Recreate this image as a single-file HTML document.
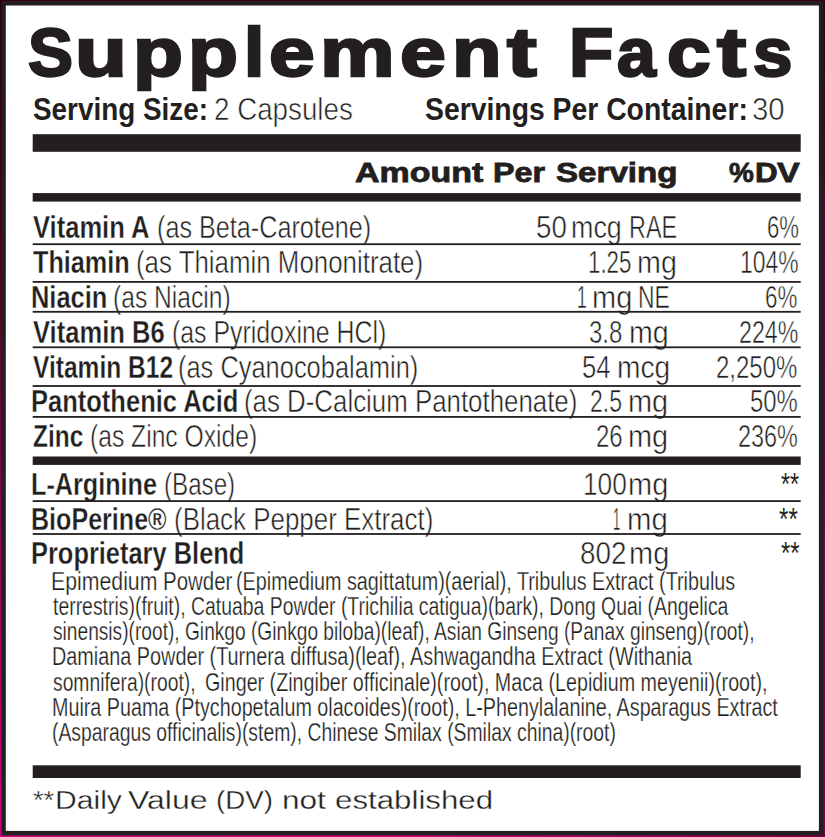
<!DOCTYPE html>
<html lang="en"><head><meta charset="utf-8"><title>Supplement Facts</title>
<style>
html,body{margin:0;padding:0}
body{width:825px;height:837px;position:relative;overflow:hidden;
 background:#3a0016;
 font-family:"Liberation Sans",sans-serif;color:#231f20}
.eg{position:absolute}
#eL{left:0;top:0;width:6px;height:837px;background:linear-gradient(to bottom,#2c000e 0%,#44001c 24%,#70003a 48%,#a0005a 72%,#c8007a 100%)}
#eR{right:0;top:0;width:6px;height:837px;background:linear-gradient(to bottom,#3a0016 0%,#70003a 48%,#7a0040 72%,#7a0040 100%)}
#eB{left:0;bottom:0;width:825px;height:3px;background:linear-gradient(to right,#c8007a 0%,#d6007e 48%,#9a0055 85%,#7a0040 100%)}
.t{position:absolute;white-space:pre;line-height:1;transform-origin:0 0;font-weight:400}
.b{font-weight:700}
.ov{position:absolute;left:0;top:0;display:block}
</style></head><body>
<div class="eg" id="eL"></div><div class="eg" id="eR"></div><div class="eg" id="eB"></div>
<svg class="ov" width="825" height="837" viewBox="0 0 825 837">
<rect x="1.6" y="1" width="821.8" height="834.4" fill="#231f20"/>
<rect x="5.8" y="5.5" width="813.1" height="825.4" fill="#fff"/>
</svg>
<span class="t b" style="left:27.60px;top:18px;font-size:68.0px;transform:scale(0.9910,1.0000);-webkit-text-stroke:2.4px #231f20">S</span>
<span class="t b" style="left:74.51px;top:18px;font-size:68.0px;transform:scale(1.2473,1.0000);-webkit-text-stroke:2.4px #231f20">u</span>
<span class="t b" style="left:132.63px;top:18px;font-size:68.0px;transform:scale(1.2032,1.0000);-webkit-text-stroke:2.4px #231f20">p</span>
<span class="t b" style="left:187.63px;top:18px;font-size:68.0px;transform:scale(1.2032,1.0000);-webkit-text-stroke:2.4px #231f20">p</span>
<span class="t b" style="left:243.59px;top:18px;font-size:68.0px;transform:scale(1.0746,1.0000);-webkit-text-stroke:2.4px #231f20">l</span>
<span class="t b" style="left:269.43px;top:18px;font-size:68.0px;transform:scale(1.2088,1.0000);-webkit-text-stroke:2.4px #231f20">e</span>
<span class="t b" style="left:320.14px;top:18px;font-size:68.0px;transform:scale(1.2347,1.0000);-webkit-text-stroke:2.4px #231f20">m</span>
<span class="t b" style="left:400.43px;top:18px;font-size:68.0px;transform:scale(1.2143,1.0000);-webkit-text-stroke:2.4px #231f20">e</span>
<span class="t b" style="left:451.66px;top:18px;font-size:68.0px;transform:scale(1.1923,1.0000);-webkit-text-stroke:2.4px #231f20">n</span>
<span class="t b" style="left:507.17px;top:18px;font-size:68.0px;transform:scale(1.3115,1.0000);-webkit-text-stroke:2.4px #231f20">t</span>
<span class="t b" style="left:569.01px;top:18px;font-size:68.0px;transform:scale(1.0677,1.0000);-webkit-text-stroke:2.4px #231f20">F</span>
<span class="t b" style="left:617.18px;top:18px;font-size:68.0px;transform:scale(1.0254,1.0000);-webkit-text-stroke:2.4px #231f20">a</span>
<span class="t b" style="left:666.68px;top:18px;font-size:68.0px;transform:scale(1.1538,1.0000);-webkit-text-stroke:2.4px #231f20">c</span>
<span class="t b" style="left:717.14px;top:18px;font-size:68.0px;transform:scale(1.2869,1.0000);-webkit-text-stroke:2.4px #231f20">t</span>
<span class="t b" style="left:753.16px;top:18px;font-size:68.0px;transform:scale(1.0440,1.0000);-webkit-text-stroke:2.4px #231f20">s</span>
<span class="t b" style="left:33.00px;top:93px;font-size:32.0px;transform:scale(0.8709,1.0000)">Serving Size:</span>
<span class="t" style="left:213.67px;top:93px;font-size:32.0px;transform:scale(0.8673,1.0000);-webkit-text-stroke:0.6px #fff">2 Capsules</span>
<span class="t b" style="left:425.00px;top:93px;font-size:32.0px;transform:scale(0.8856,1.0000)">Servings Per Container:</span>
<span class="t" style="left:751.71px;top:93px;font-size:32.0px;transform:scale(0.9188,1.0000);-webkit-text-stroke:0.6px #fff">30</span>
<span class="t b" style="left:354.79px;top:159px;font-size:27.6px;transform:scale(1.2306,1.0000);-webkit-text-stroke:0.8px #231f20">Amount</span>
<span class="t b" style="left:493.30px;top:159px;font-size:27.6px;transform:scale(1.1672,1.0000);-webkit-text-stroke:0.8px #231f20">Per</span>
<span class="t b" style="left:555.78px;top:159px;font-size:27.6px;transform:scale(1.2001,1.0000);-webkit-text-stroke:0.8px #231f20">Serving</span>
<span class="t b" style="left:728.60px;top:159px;font-size:27.6px;transform:scale(1.0121,1.0000);-webkit-text-stroke:0.8px #231f20">%</span>
<span class="t b" style="left:754.82px;top:159px;font-size:27.6px;transform:scale(1.1383,1.0000);-webkit-text-stroke:0.8px #231f20">D</span>
<span class="t b" style="left:776.89px;top:159px;font-size:27.6px;transform:scale(1.2374,1.0000);-webkit-text-stroke:0.8px #231f20">V</span>
<span class="t b" style="left:32.88px;top:213px;font-size:30.7px;transform:scale(0.8327,1.0000);-webkit-text-stroke:0.3px #fff">Vitamin A</span>
<span class="t" style="left:156.97px;top:213px;font-size:30.7px;transform:scale(0.8209,1.0000);-webkit-text-stroke:0.5px #fff">(as Beta-Carotene)</span>
<span class="t" style="left:536.27px;top:213px;font-size:30.7px;transform:scale(0.9028,1.0000);-webkit-text-stroke:0.5px #fff">50</span>
<span class="t" style="left:571.13px;top:213px;font-size:30.7px;transform:scale(0.8767,1.0000);-webkit-text-stroke:0.5px #fff">mcg</span>
<span class="t" style="left:629.49px;top:213px;font-size:30.7px;transform:scale(0.7617,1.0000);-webkit-text-stroke:0.5px #fff">RAE</span>
<span class="t" style="left:766.60px;top:213px;font-size:30.7px;transform:scale(0.7212,1.0000);-webkit-text-stroke:0.5px #fff">6%</span>
<span class="t b" style="left:32.88px;top:248px;font-size:30.7px;transform:scale(0.8218,1.0000);-webkit-text-stroke:0.3px #fff">Thiamin</span>
<span class="t" style="left:135.65px;top:248px;font-size:30.7px;transform:scale(0.8431,1.0000);-webkit-text-stroke:0.5px #fff">(as Thiamin Mononitrate)</span>
<span class="t" style="left:588.07px;top:248px;font-size:30.7px;transform:scale(0.7265,1.0000);-webkit-text-stroke:0.5px #fff">1.25</span>
<span class="t" style="left:636.50px;top:248px;font-size:30.7px;transform:scale(0.9344,1.0000);-webkit-text-stroke:0.5px #fff">mg</span>
<span class="t" style="left:740.12px;top:248px;font-size:30.7px;transform:scale(0.7450,1.0000);-webkit-text-stroke:0.5px #fff">104%</span>
<span class="t b" style="left:31.22px;top:283px;font-size:30.7px;transform:scale(0.8291,1.0000);-webkit-text-stroke:0.3px #fff">Niacin</span>
<span class="t" style="left:113.00px;top:283px;font-size:30.7px;transform:scale(0.8025,1.0000);-webkit-text-stroke:0.5px #fff">(as Niacin)</span>
<span class="t" style="left:577.22px;top:283px;font-size:30.7px;transform:scale(0.5704,1.0000);-webkit-text-stroke:0.5px #fff">1</span>
<span class="t" style="left:591.87px;top:283px;font-size:30.7px;transform:scale(0.9446,1.0000);-webkit-text-stroke:0.5px #fff">mg</span>
<span class="t" style="left:638.32px;top:283px;font-size:30.7px;transform:scale(0.7463,1.0000);-webkit-text-stroke:0.5px #fff">NE</span>
<span class="t" style="left:765.09px;top:283px;font-size:30.7px;transform:scale(0.7283,1.0000);-webkit-text-stroke:0.5px #fff">6%</span>
<span class="t b" style="left:32.88px;top:318px;font-size:30.7px;transform:scale(0.8330,1.0000);-webkit-text-stroke:0.3px #fff">Vitamin B6</span>
<span class="t" style="left:171.99px;top:318px;font-size:30.7px;transform:scale(0.8104,1.0000);-webkit-text-stroke:0.5px #fff">(as Pyridoxine HCl)</span>
<span class="t" style="left:589.12px;top:318px;font-size:30.7px;transform:scale(0.7832,1.0000);-webkit-text-stroke:0.5px #fff">3.8</span>
<span class="t" style="left:628.80px;top:318px;font-size:30.7px;transform:scale(0.9318,1.0000);-webkit-text-stroke:0.5px #fff">mg</span>
<span class="t" style="left:739.05px;top:318px;font-size:30.7px;transform:scale(0.7562,1.0000);-webkit-text-stroke:0.5px #fff">224%</span>
<span class="t b" style="left:32.88px;top:353px;font-size:30.7px;transform:scale(0.8001,1.0000);-webkit-text-stroke:0.3px #fff">Vitamin B12</span>
<span class="t" style="left:177.96px;top:353px;font-size:30.7px;transform:scale(0.8286,1.0000);-webkit-text-stroke:0.5px #fff">(as Cyanocobalamin)</span>
<span class="t" style="left:582.26px;top:353px;font-size:30.7px;transform:scale(0.8352,1.0000);-webkit-text-stroke:0.5px #fff">54</span>
<span class="t" style="left:616.74px;top:353px;font-size:30.7px;transform:scale(0.9172,1.0000);-webkit-text-stroke:0.5px #fff">mcg</span>
<span class="t" style="left:716.02px;top:353px;font-size:30.7px;transform:scale(0.7821,1.0000);-webkit-text-stroke:0.5px #fff">2,250%</span>
<span class="t b" style="left:31.21px;top:387px;font-size:30.7px;transform:scale(0.8313,1.0000);-webkit-text-stroke:0.3px #fff">Pantothenic Acid</span>
<span class="t" style="left:244.45px;top:387px;font-size:30.7px;transform:scale(0.8423,1.0000);-webkit-text-stroke:0.5px #fff">(as D-Calcium Pantothenate)</span>
<span class="t" style="left:590.16px;top:387px;font-size:30.7px;transform:scale(0.7508,1.0000);-webkit-text-stroke:0.5px #fff">2.5</span>
<span class="t" style="left:627.78px;top:387px;font-size:30.7px;transform:scale(0.9421,1.0000);-webkit-text-stroke:0.5px #fff">mg</span>
<span class="t" style="left:749.63px;top:387px;font-size:30.7px;transform:scale(0.7781,1.0000);-webkit-text-stroke:0.5px #fff">50%</span>
<span class="t b" style="left:32.88px;top:422px;font-size:30.7px;transform:scale(0.7972,1.0000);-webkit-text-stroke:0.3px #fff">Zinc</span>
<span class="t" style="left:90.00px;top:422px;font-size:30.7px;transform:scale(0.8036,1.0000);-webkit-text-stroke:0.5px #fff">(as Zinc Oxide)</span>
<span class="t" style="left:595.52px;top:422px;font-size:30.7px;transform:scale(0.7825,1.0000);-webkit-text-stroke:0.5px #fff">26</span>
<span class="t" style="left:627.78px;top:422px;font-size:30.7px;transform:scale(0.9421,1.0000);-webkit-text-stroke:0.5px #fff">mg</span>
<span class="t" style="left:737.64px;top:422px;font-size:30.7px;transform:scale(0.7640,1.0000);-webkit-text-stroke:0.5px #fff">236%</span>
<span class="t b" style="left:31.24px;top:470px;font-size:30.7px;transform:scale(0.8209,1.0000);-webkit-text-stroke:0.3px #fff">L-Arginine</span>
<span class="t" style="left:164.02px;top:470px;font-size:30.7px;transform:scale(0.7871,1.0000);-webkit-text-stroke:0.5px #fff">(Base)</span>
<span class="t" style="left:582.67px;top:470px;font-size:30.7px;transform:scale(0.8565,1.0000);-webkit-text-stroke:0.5px #fff">100</span>
<span class="t" style="left:628.27px;top:470px;font-size:30.7px;transform:scale(0.9446,1.0000);-webkit-text-stroke:0.5px #fff">mg</span>
<span class="t" style="left:780.50px;top:470px;font-size:30.7px;transform:scale(0.7602,1.0000)">**</span>
<span class="t b" style="left:31.24px;top:505px;font-size:30.7px;transform:scale(0.8173,1.0000);-webkit-text-stroke:0.3px #fff">BioPerine®</span>
<span class="t" style="left:173.94px;top:505px;font-size:30.7px;transform:scale(0.8447,1.0000);-webkit-text-stroke:0.5px #fff">(Black Pepper Extract)</span>
<span class="t" style="left:613.05px;top:505px;font-size:30.7px;transform:scale(0.4222,1.0000);-webkit-text-stroke:0.5px #fff">1</span>
<span class="t" style="left:626.55px;top:505px;font-size:30.7px;transform:scale(0.9574,1.0000);-webkit-text-stroke:0.5px #fff">mg</span>
<span class="t" style="left:778.50px;top:505px;font-size:30.7px;transform:scale(0.7894,1.0000)">**</span>
<span class="t b" style="left:31.22px;top:539px;font-size:30.7px;transform:scale(0.8285,1.0000);-webkit-text-stroke:0.3px #fff">Proprietary Blend</span>
<span class="t" style="left:580.07px;top:539px;font-size:30.7px;transform:scale(0.9068,1.0000);-webkit-text-stroke:0.5px #fff">802</span>
<span class="t" style="left:628.77px;top:539px;font-size:30.7px;transform:scale(0.9446,1.0000);-webkit-text-stroke:0.5px #fff">mg</span>
<span class="t" style="left:780.70px;top:539px;font-size:30.7px;transform:scale(0.7810,1.0000)">**</span>
<span class="t" style="left:51.43px;top:569px;font-size:25.5px;transform:scale(0.8343,1.0000);-webkit-text-stroke:0.25px #fff">Epimedium</span>
<span class="t" style="left:162.59px;top:569px;font-size:25.5px;transform:scale(0.8027,1.0000);-webkit-text-stroke:0.25px #fff">Powder</span>
<span class="t" style="left:236.43px;top:569px;font-size:25.5px;transform:scale(0.7754,1.0000);-webkit-text-stroke:0.25px #fff">(Epimedium sagittatum)(aerial), Tribulus Extract (Tribulus</span>
<span class="t" style="left:53.10px;top:594px;font-size:25.5px;transform:scale(0.7609,1.0000);-webkit-text-stroke:0.25px #fff">terrestris)(fruit), Catuaba Powder (Trichilia catigua)(bark), Dong Quai (Angelica</span>
<span class="t" style="left:53.11px;top:619px;font-size:25.5px;transform:scale(0.7511,1.0000);-webkit-text-stroke:0.25px #fff">sinensis)(root), Ginkgo (Ginkgo biloba)(leaf), Asian Ginseng (Panax ginseng)(root),</span>
<span class="t" style="left:51.55px;top:644px;font-size:25.5px;transform:scale(0.7773,1.0000);-webkit-text-stroke:0.25px #fff">Damiana Powder (Turnera diffusa)(leaf), Ashwagandha Extract (Withania</span>
<span class="t" style="left:53.11px;top:670px;font-size:25.5px;transform:scale(0.7565,1.0000);-webkit-text-stroke:0.25px #fff">somnifera)(root),</span>
<span class="t" style="left:205.13px;top:670px;font-size:25.5px;transform:scale(0.7728,1.0000);-webkit-text-stroke:0.25px #fff">Ginger (Zingiber officinale)(root), Maca (Lepidium meyenii)(root),</span>
<span class="t" style="left:51.56px;top:695px;font-size:25.5px;transform:scale(0.7735,1.0000);-webkit-text-stroke:0.25px #fff">Muira Puama (Ptychopetalum olacoides)(root), L-Phenylalanine, Asparagus Extract</span>
<span class="t" style="left:52.35px;top:720px;font-size:25.5px;transform:scale(0.7584,1.0000);-webkit-text-stroke:0.25px #fff">(Asparagus officinalis)(stem), Chinese Smilax (Smilax china)(root)</span>
<span class="t" style="left:33.04px;top:788px;font-size:25.4px;transform:scale(1.0725,1.0000);-webkit-text-stroke:0.3px #fff">**</span>
<span class="t" style="left:55.45px;top:788px;font-size:25.4px;transform:scale(1.1848,1.0000);-webkit-text-stroke:0.3px #fff">Daily</span>
<span class="t" style="left:127.61px;top:788px;font-size:25.4px;transform:scale(1.2607,1.0000);-webkit-text-stroke:0.3px #fff">Value</span>
<span class="t" style="left:215.85px;top:788px;font-size:25.4px;transform:scale(1.0905,1.0000);-webkit-text-stroke:0.3px #fff">(DV)</span>
<span class="t" style="left:281.87px;top:788px;font-size:25.4px;transform:scale(1.2433,1.0000);-webkit-text-stroke:0.3px #fff">not</span>
<span class="t" style="left:334.78px;top:788px;font-size:25.4px;transform:scale(1.2306,1.0000);-webkit-text-stroke:0.3px #fff">established</span>
<svg class="ov" width="825" height="837" viewBox="0 0 825 837" fill="#231f20">
<rect x="32.70" y="134.20" width="768.00" height="17.60"/>
<rect x="32.70" y="193.10" width="768.00" height="8.50"/>
<rect x="32.70" y="456.50" width="768.00" height="8.40"/>
<rect x="32.70" y="765.30" width="768.00" height="12.70"/>
<rect x="32.70" y="243.30" width="768.00" height="1.80"/>
<rect x="32.70" y="281.00" width="768.00" height="1.80"/>
<rect x="32.70" y="310.90" width="768.00" height="1.80"/>
<rect x="32.70" y="346.40" width="768.00" height="1.80"/>
<rect x="32.70" y="385.10" width="768.00" height="1.80"/>
<rect x="32.70" y="416.00" width="768.00" height="1.80"/>
<rect x="32.70" y="500.20" width="768.00" height="1.80"/>
<rect x="32.70" y="533.10" width="768.00" height="1.80"/>
</svg>
</body></html>
